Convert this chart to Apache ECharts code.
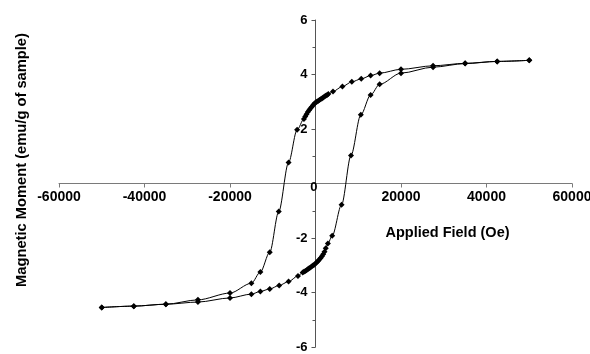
<!DOCTYPE html>
<html>
<head>
<meta charset="utf-8">
<script src="https://cdn.jsdelivr.net/npm/echarts@6/dist/echarts.min.js"></script>
<style>html,body{margin:0;padding:0;background:#fff;}#c{width:590px;height:354px;}</style>
</head>
<body>
<div id="c"></div>
<script>
// Tick labels
var xTicks = [-60000, -40000, -20000, 0, 20000, 40000, 60000];
var yTicks = [-6, -4, -2, 0, 2, 4, 6];

// Descending-field branch (from +50000 Oe to -50000 Oe)
var downField = [50000, 42500, 35000, 27500, 20000, 15000, 12900, 10700, 8500, 6300, 4100,
  3000, 2700, 2400, 2100, 1800, 1500, 1200, 900, 600, 300, 0, -300, -600, -900, -1200, -1500, -1800, -2100, -2400, -2700,
  -4300, -6300, -8600, -10700, -12900, -15000, -20000, -27500, -35000, -42500, -50000];
var downMoment = [4.52, 4.48, 4.41, 4.32, 4.19, 4.05, 3.96, 3.84, 3.73, 3.56, 3.38,
  3.28, 3.25, 3.22, 3.19, 3.16, 3.12, 3.09, 3.06, 3.03, 3.00, 2.97, 2.92, 2.87, 2.81, 2.75, 2.69, 2.62, 2.54, 2.46, 2.37,
  1.97, 0.77, -1.03, -2.52, -3.25, -3.66, -4.02, -4.27, -4.43, -4.50, -4.55];

// Ascending-field branch (from -50000 Oe to +50000 Oe)
var upField = [-50000, -42500, -35000, -27500, -20000, -15000, -12900, -10700, -8500, -6300, -4100,
  -3000, -2700, -2400, -2100, -1800, -1500, -1200, -900, -600, -300, 0, 300, 600, 900, 1200, 1500, 1800, 2100, 2400, 2900,
  3900, 6100, 8300, 10600, 12900, 15000, 20000, 27500, 35000, 42500, 50000];
var upMoment = [-4.55, -4.50, -4.43, -4.35, -4.20, -4.06, -3.96, -3.87, -3.74, -3.60, -3.39,
  -3.27, -3.24, -3.21, -3.18, -3.15, -3.11, -3.08, -3.05, -3.01, -2.98, -2.94, -2.89, -2.84, -2.79, -2.73, -2.67, -2.60, -2.50, -2.38, -2.20,
  -1.92, -0.78, 1.03, 2.52, 3.25, 3.64, 4.05, 4.27, 4.40, 4.48, 4.52];

function pairs(xs, ys) { return xs.map(function (x, i) { return [x, ys[i]]; }); }

var W = 590, H = 354;
var G = { left: 59, right: 18, top: 20, bottom: 7 };
// place each axis so that it crosses the other at zero
var plotW = W - G.left - G.right, plotH = H - G.top - G.bottom;
var xAxisShift = -plotH * (0 - yTicks[0]) / (yTicks[yTicks.length - 1] - yTicks[0]);
var yAxisShift = -plotW * (0 - xTicks[0]) / (xTicks[xTicks.length - 1] - xTicks[0]);

var font = '"Liberation Sans", Arial, sans-serif';
var chart = echarts.init(document.getElementById('c'), null, { renderer: 'canvas' });
var seriesStyle = {
  type: 'line', smooth: 0.3, smoothMonotone: 'x',
  symbol: 'diamond', symbolSize: 6, showSymbol: true,
  lineStyle: { color: '#000', width: 1 },
  itemStyle: { color: '#000' },
  animation: false, silent: true
};
chart.setOption({
  backgroundColor: '#fff',
  animation: false,
  grid: { left: G.left, right: G.right, top: G.top, bottom: G.bottom, containLabel: false, outerBoundsMode: 'none' },
  xAxis: {
    type: 'value', offset: xAxisShift,
    min: xTicks[0], max: xTicks[xTicks.length - 1], interval: xTicks[1] - xTicks[0],
    axisLine: { onZero: false, lineStyle: { color: '#7a7a7a', width: 1 } },
    axisTick: { show: true, length: 4, lineStyle: { color: '#7a7a7a' } },
    axisLabel: {
      margin: 7, color: '#000', fontFamily: font, fontWeight: 'bold', fontSize: 14,
      formatter: function (v) { return v === 0 ? '' : String(v); }
    },
    splitLine: { show: false },
    name: 'Applied Field (Oe)', nameLocation: 'middle', nameGap: 42,
    nameTextStyle: { color: '#000', fontFamily: font, fontWeight: 'bold', fontSize: 14.5, padding: [0, 0, 0, 264] }
  },
  yAxis: {
    type: 'value', offset: yAxisShift,
    min: yTicks[0], max: yTicks[yTicks.length - 1], interval: yTicks[1] - yTicks[0],
    axisLine: { onZero: false, lineStyle: { color: '#555', width: 1 } },
    axisTick: { show: true, length: 4, lineStyle: { color: '#555' } },
    minorTick: { show: true, splitNumber: 2, length: 3, lineStyle: { color: '#555' } },
    axisLabel: {
      margin: 8, color: '#000', fontFamily: font, fontWeight: 'bold', fontSize: 13,
      formatter: function (v) { return v === 0 ? '{z|0}' : String(v); },
      rich: { z: { fontFamily: font, fontWeight: 'bold', fontSize: 13, color: '#000', padding: [8, -10, 0, 0] } }
    },
    splitLine: { show: false },
    name: 'Magnetic Moment (emu/g of sample)', nameLocation: 'middle', nameGap: 286,
    nameTextStyle: { color: '#000', fontFamily: font, fontWeight: 'bold', fontSize: 14.7, padding: [0, 0, 0, 47] }
  },
  series: [
    Object.assign({ name: 'down', data: pairs(downField, downMoment) }, seriesStyle),
    Object.assign({ name: 'up', data: pairs(upField, upMoment) }, seriesStyle)
  ]
});
</script>
</body>
</html>
